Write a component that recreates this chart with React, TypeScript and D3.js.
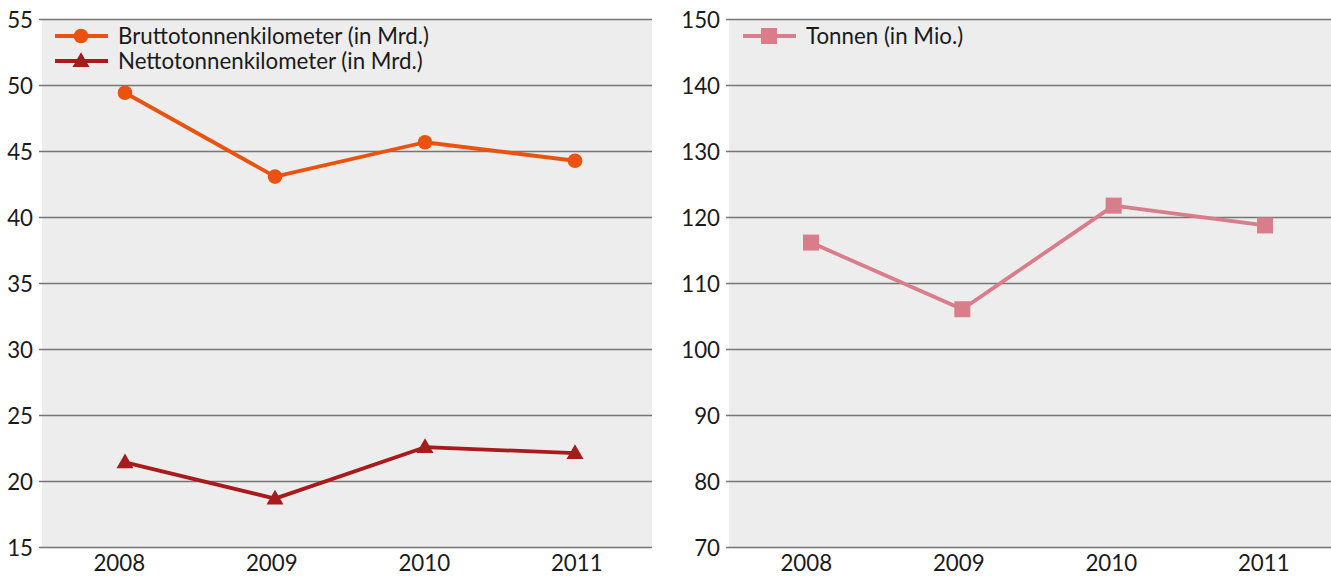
import React from "react";
import * as d3 from "d3";

const years = ["2008", "2009", "2010", "2011"];
const brutto = [49.45, 43.1, 45.7, 44.3];
const netto = [21.45, 18.7, 22.6, 22.15];
const tonnen = [116.2, 106.1, 121.8, 118.8];
const leftTicks = [15, 20, 25, 30, 35, 40, 45, 50, 55];
const rightTicks = [70, 80, 90, 100, 110, 120, 130, 140, 150];

const W = 1331;
const H = 576;
const TOP = 19.5;
const BOTTOM = 547.5;
const FONT = "Lato, 'Open Sans', sans-serif";
const FS = 22.3;
const BG = "#ededed";
const GRID = "#767676";
const C_BRUTTO = "#e9520f";
const C_NETTO = "#a71b1c";
const C_TONNEN = "#d87d89";

type Series = { name: string; values: number[]; color: string; marker: "circle" | "triangle" | "square" };

function Marker({ type, x, y, color }: { type: string; x: number; y: number; color: string }) {
  if (type === "circle") return <circle cx={x} cy={y} r={7.3} fill={color} />;
  if (type === "square") return <rect x={x - 8} y={y - 8} width={16} height={16} fill={color} />;
  const sym = d3.symbol().type(d3.symbolTriangle).size(125)();
  return <path d={sym || ""} transform={`translate(${x},${y + 1})`} fill={color} />;
}

function Panel({
  left,
  width,
  domain,
  ticks,
  series,
  labelRight,
  legendX,
  markRange,
}: {
  left: number;
  width: number;
  domain: [number, number];
  ticks: number[];
  series: Series[];
  labelRight: number;
  legendX: number;
  markRange: [number, number];
}) {
  const x = d3.scaleBand<string>().domain(years).range([left, left + width]);
  const xp = d3.scalePoint<string>().domain(years).range(markRange);
  const y = d3.scaleLinear().domain(domain).range([BOTTOM, TOP]);
  const cx = (d: string) => (x(d) as number) + x.bandwidth() / 2;
  const line = d3
    .line<number>()
    .x((_, i) => xp(years[i]) as number)
    .y((v) => y(v));
  return (
    <g>
      <rect x={left} y={TOP} width={width} height={BOTTOM - TOP} fill={BG} />
      {ticks.map((t) => (
        <g key={t}>
          <line x1={left - 3} x2={left + width} y1={y(t)} y2={y(t)} stroke={GRID} strokeWidth={1.4} />
          <text
            x={labelRight}
            y={y(t)}
            dy="0.36em"
            textAnchor="end"
            fontFamily={FONT}
            fontSize={FS}
            fill="#1a1a1a"
          >
            {t}
          </text>
        </g>
      ))}
      {years.map((yr) => (
        <text key={yr} x={cx(yr) + 1} y={571} textAnchor="middle" fontFamily={FONT} fontSize={FS} fill="#1a1a1a">
          {yr}
        </text>
      ))}
      {series.map((s) => (
        <g key={s.name}>
          <path d={line(s.values) || ""} fill="none" stroke={s.color} strokeWidth={3.8} strokeLinejoin="round" />
          {s.values.map((v, i) => (
            <Marker key={i} type={s.marker} x={xp(years[i]) as number} y={y(v)} color={s.color} />
          ))}
        </g>
      ))}
      {series.map((s, i) => {
        const ly = 36 + i * 25;
        return (
          <g key={"lg" + s.name}>
            <line x1={legendX} x2={legendX + 53} y1={ly} y2={ly} stroke={s.color} strokeWidth={3.8} />
            <Marker type={s.marker} x={legendX + 26} y={ly} color={s.color} />
            <text x={legendX + 63} y={ly} dy="0.36em" fontFamily={FONT} fontSize={FS} fill="#1a1a1a">
              {s.name}
            </text>
          </g>
        );
      })}
    </g>
  );
}

export default function App() {
  const leftSeries: Series[] = [
    { name: "Bruttotonnenkilometer (in Mrd.)", values: brutto, color: C_BRUTTO, marker: "circle" },
    { name: "Nettotonnenkilometer (in Mrd.)", values: netto, color: C_NETTO, marker: "triangle" },
  ];
  const rightSeries: Series[] = [
    { name: "Tonnen (in Mio.)", values: tonnen, color: C_TONNEN, marker: "square" },
  ];
  return (
    <svg
      width={W}
      height={H}
      style={{ position: "absolute", left: 0, top: 0, background: "#fff" }}
    >
      <Panel left={42} width={610} domain={[15, 55]} ticks={leftTicks} series={leftSeries} labelRight={33} legendX={55} markRange={[125, 575]} />
      <Panel left={729} width={610} domain={[70, 150]} ticks={rightTicks} series={rightSeries} labelRight={720} legendX={743} markRange={[811, 1265]} />
    </svg>
  );
}
